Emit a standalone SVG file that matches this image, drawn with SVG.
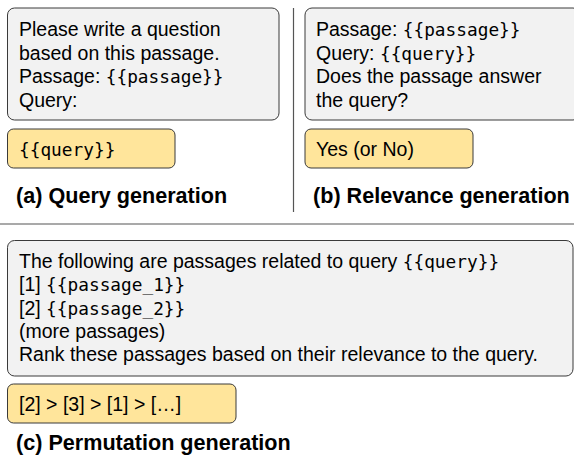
<svg xmlns="http://www.w3.org/2000/svg" width="574" height="457" viewBox="0 0 574 457">
<style>
.prompt{fill:#f2f2f2;stroke:#3a3a3a;stroke-width:1}
.out{fill:#ffe59b;stroke:#3a3a3a;stroke-width:1}
.t{font-family:"Liberation Sans",Arial,sans-serif;font-size:19.5px;fill:#000}
.m{font-family:"DejaVu Sans Mono",monospace;font-size:17.8px}
.cap{font-family:"Liberation Sans",Arial,sans-serif;font-size:21.6px;font-weight:bold;fill:#000}
.sep{stroke:#555;stroke-width:1.2;fill:none}
</style>
<rect width="574" height="457" fill="#fff"/>
<g id="separators">
<line class="sep" x1="293.5" y1="8" x2="293.5" y2="212"/>
<line class="sep" x1="0" y1="224" x2="574" y2="224"/>
</g>
<g id="prompt-a">
<rect class="prompt" x="7.5" y="8" width="271.5" height="112" rx="7"/>
<text class="t" x="19" y="36">Please write a question</text>
<text class="t" x="19" y="59.5">based on this passage.</text>
<text class="t" x="19" y="83">Passage: <tspan class="m">{{passage}}</tspan></text>
<text class="t" x="19" y="106.5">Query:</text>
</g>
<g id="output-a">
<rect class="out" x="7.5" y="129" width="167.5" height="39" rx="6"/>
<text class="t m" x="19" y="155.5">{{query}}</text>
</g>
<text id="caption-a" class="cap" x="16" y="203">(a) Query generation</text>
<g id="prompt-b">
<rect class="prompt" x="305" y="8" width="275" height="112" rx="7"/>
<text class="t" x="316" y="36">Passage: <tspan class="m">{{passage}}</tspan></text>
<text class="t" x="316" y="59.5">Query: <tspan class="m">{{query}}</tspan></text>
<text class="t" x="316" y="83">Does the passage answer</text>
<text class="t" x="316" y="106.5">the query?</text>
</g>
<g id="output-b">
<rect class="out" x="305" y="129" width="168" height="39" rx="6"/>
<text class="t" x="316" y="156">Yes (or No)</text>
</g>
<text id="caption-b" class="cap" x="313" y="203">(b) Relevance generation</text>
<g id="prompt-c">
<rect class="prompt" x="7.5" y="240.5" width="565.5" height="135.5" rx="7"/>
<text class="t" x="19" y="268">The following are passages related to query <tspan class="m">{{query}}</tspan></text>
<text class="t" x="19" y="291.3">[1] <tspan class="m">{{passage_1}}</tspan></text>
<text class="t" x="19" y="314.6">[2] <tspan class="m">{{passage_2}}</tspan></text>
<text class="t" x="19" y="337.9">(more passages)</text>
<text class="t" x="19" y="361.2">Rank these passages based on their relevance to the query.</text>
</g>
<g id="output-c">
<rect class="out" x="7.5" y="384" width="228.5" height="39" rx="6"/>
<text class="t" x="19" y="411">[2] &gt; [3] &gt; [1] &gt; […]</text>
</g>
<text id="caption-c" class="cap" x="16" y="450">(c) Permutation generation</text>
</svg>
